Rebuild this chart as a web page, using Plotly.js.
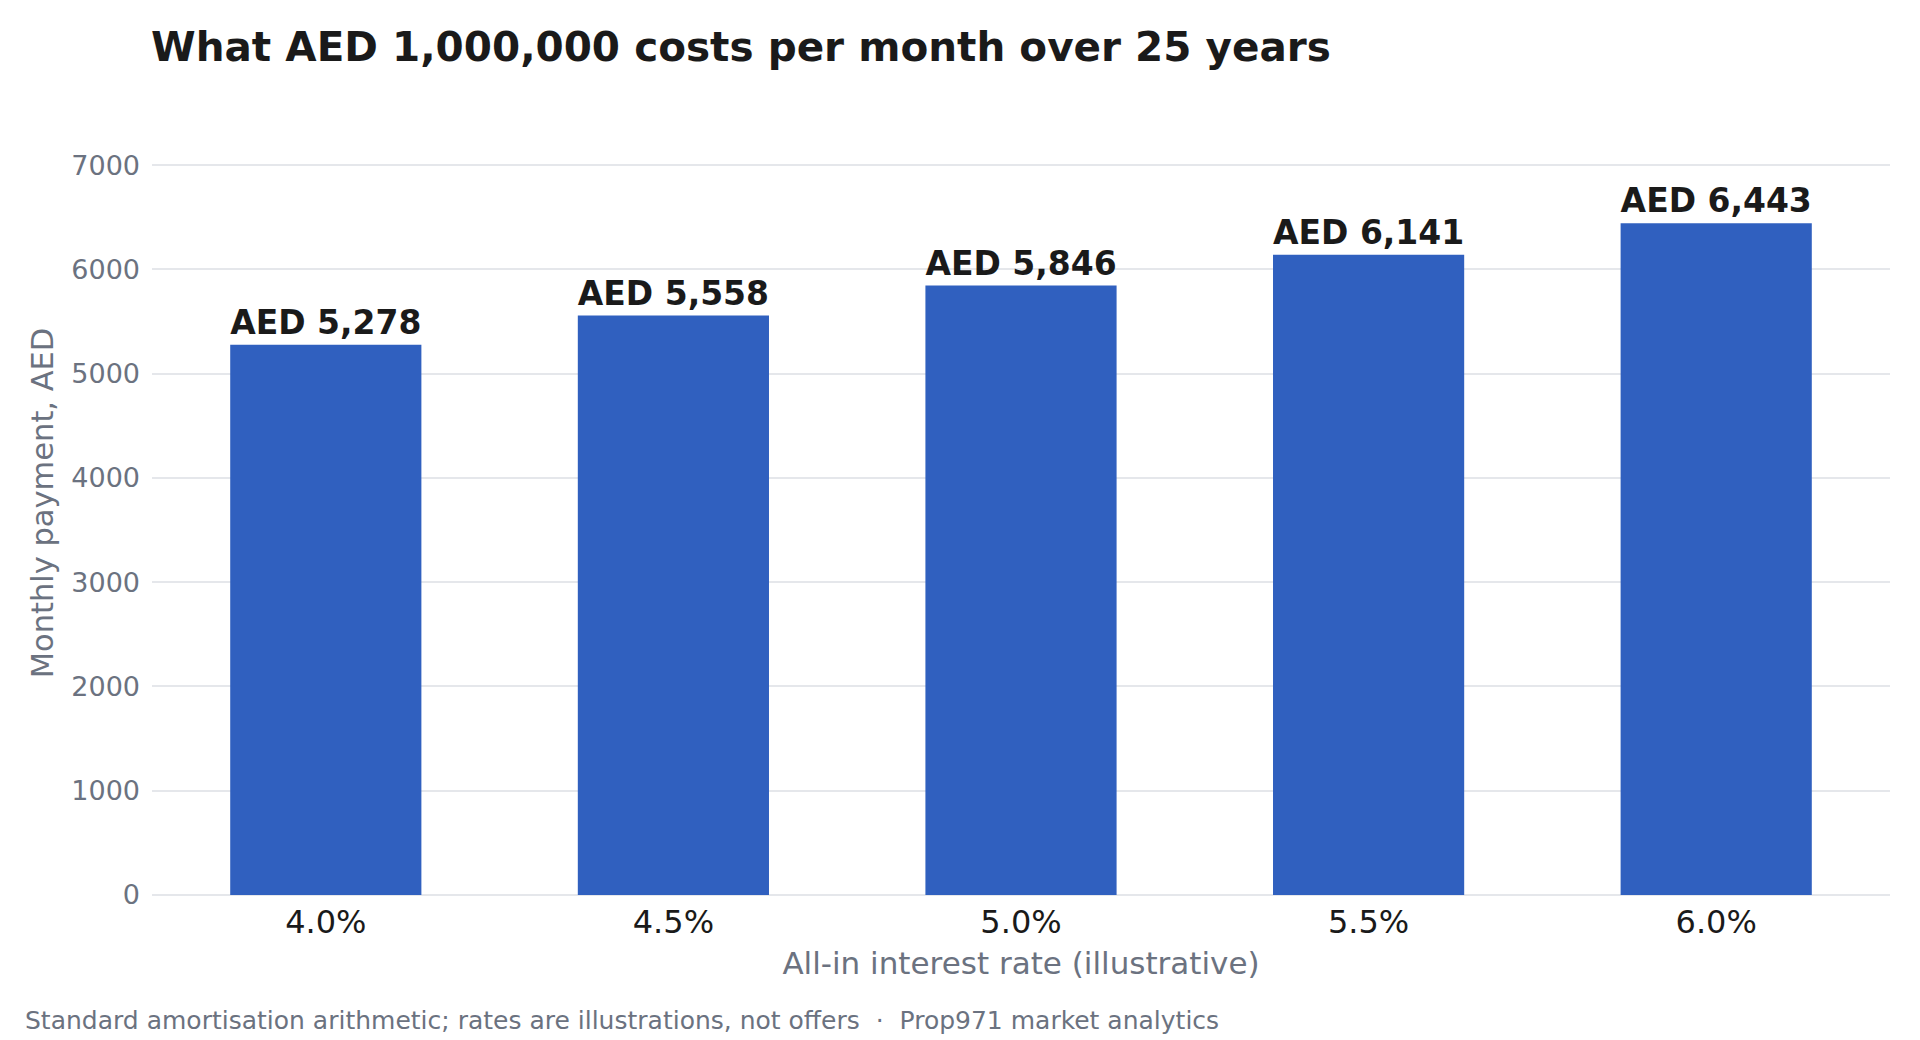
<!DOCTYPE html>
<html>
<head>
<meta charset="utf-8">
<script src="https://cdn.plot.ly/plotly-3.0.1.min.js"></script>
<style>
  html, body { margin: 0; padding: 0; background: #fff; }
  #chart { width: 1920px; height: 1040px; }
</style>
</head>
<body>
<div id="chart"></div>
<script>
// interest rates shown on the x axis
const rates = ['4.0%', '4.5%', '5.0%', '5.5%', '6.0%'];
// monthly payment on AED 1,000,000 over 25 years
const payments = [5278, 5558, 5846, 6141, 6443];
const labels = payments.map(v => 'AED ' + v.toLocaleString('en-US'));

const yTicks = [0, 1000, 2000, 3000, 4000, 5000, 6000, 7000];

const grey = '#6b7280';
const ink = '#1a1a1a';

// plot box in pixels
const plotLeft = 152, plotRight = 1890, plotTop = 111, plotBottom = 895;

const trace = {
    type: 'bar',
    x: rates,
    y: payments,
    text: labels,
    textposition: 'outside',
    cliponaxis: false,
    textfont: { family: 'DejaVu Sans', size: 33.5, color: ink, weight: 'bold' },
    marker: { color: '#3060bf' },
    hoverinfo: 'skip'
};

const layout = {
    width: 1920,
    height: 1040,
    paper_bgcolor: '#ffffff',
    plot_bgcolor: '#ffffff',
    margin: { l: plotLeft, r: 1920 - plotRight, t: plotTop, b: 1040 - plotBottom },
    bargap: 0.45,
    showlegend: false,
    font: { family: 'DejaVu Sans', color: grey },
    title: {
        text: '<b>What AED 1,000,000 costs per month over 25 years</b>',
        font: { family: 'DejaVu Sans', size: 40.5, color: ink },
        x: 151 / 1920,
        xanchor: 'left',
        y: 1 - 47 / 1040,
        yanchor: 'middle'
    },
    xaxis: {
        type: 'category',
        tickfont: { size: 32, color: ink },
        showgrid: false,
        showline: false,
        ticks: '',
        ticklabelstandoff: 5,
        title: {
            text: 'All-in interest rate (illustrative)',
            font: { size: 31, color: grey },
            standoff: 12
        }
    },
    yaxis: {
        range: [0, 7520],
        tickvals: yTicks,
        tickfont: { size: 27, color: grey },
        gridcolor: '#e5e7eb',
        gridwidth: 2,
        zeroline: true,
        zerolinecolor: '#e5e7eb',
        zerolinewidth: 2,
        ticks: '',
        ticklabelstandoff: 11,
        title: {
            text: 'Monthly payment, AED',
            font: { size: 30.5, color: grey },
            standoff: 8
        }
    },
    annotations: [{
        text: 'Standard amortisation arithmetic; rates are illustrations, not offers  ·  Prop971 market analytics',
        xref: 'paper', yref: 'paper',
        x: (23 - plotLeft) / (plotRight - plotLeft),
        y: (plotBottom - 1020) / (plotBottom - plotTop),
        xanchor: 'left', yanchor: 'middle',
        showarrow: false,
        font: { size: 25, color: grey }
    }]
};

Plotly.newPlot('chart', [trace], layout, { displayModeBar: false, staticPlot: true });
</script>
</body>
</html>
